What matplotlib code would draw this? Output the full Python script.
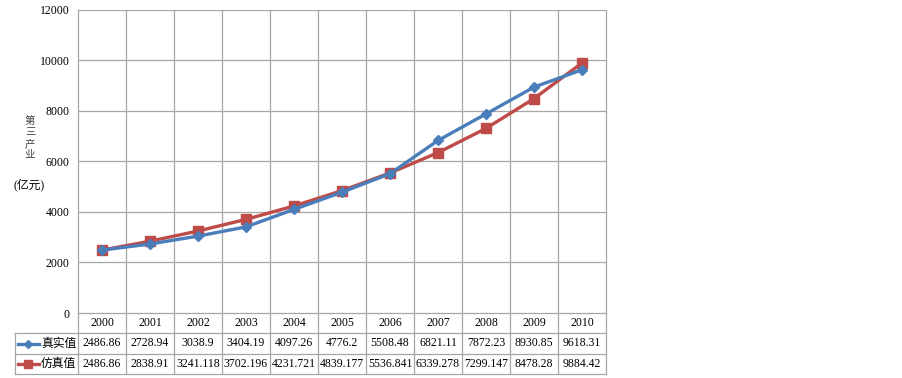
import matplotlib
matplotlib.use("Agg")
import matplotlib.pyplot as plt
import matplotlib.transforms as mtransforms
from matplotlib.lines import Line2D

years = ["2000", "2001", "2002", "2003", "2004", "2005", "2006", "2007", "2008", "2009", "2010"]
real_vals = [2486.86, 2728.94, 3038.9, 3404.19, 4097.26, 4776.2, 5508.48, 6821.11, 7872.23, 8930.85, 9618.31]
sim_vals = [2486.86, 2838.91, 3241.118, 3702.196, 4231.721, 4839.177, 5536.841, 6339.278, 7299.147, 8478.28, 9884.42]
real_labels = ["2486.86", "2728.94", "3038.9", "3404.19", "4097.26", "4776.2", "5508.48", "6821.11", "7872.23", "8930.85", "9618.31"]
sim_labels = ["2486.86", "2838.91", "3241.118", "3702.196", "4231.721", "4839.177", "5536.841", "6339.278", "7299.147", "8478.28", "9884.42"]
series_names = ["真实值", "仿真值"]
y_ticks = [0, 2000, 4000, 6000, 8000, 10000, 12000]
ylabel_chars = ["第", "三", "产", "业"]
ylabel_unit = "(亿元)"

FAM = ["Liberation Serif", "Noto Sans CJK SC"]
plt.rcParams["font.family"] = FAM
BLUE = "#4A7EBB"
RED = "#BE4B48"
GRID = "#A6A6A6"
FS = 8.5

W, H = 903, 378
fig = plt.figure(figsize=(W / 100, H / 100), dpi=100)
left_px, right_px, top_px, bot_px = 78, 606, 9.5, 313
ax = fig.add_axes([left_px / W, (H - bot_px) / H, (right_px - left_px) / W, (bot_px - top_px) / H])

n = len(years)
x = list(range(n))
ax.set_xlim(-0.5, n - 0.5)
ax.set_ylim(0, 12000)

ax.plot(x, real_vals, color=BLUE, lw=2.4, marker="D", ms=5, mfc=BLUE, mec=BLUE, zorder=4)
ax.plot(x, sim_vals, color=RED, lw=2.4, marker="s", ms=6.5, mfc=RED, mec=RED, zorder=3)

for t in y_ticks[1:]:
    ax.axhline(t, color=GRID, lw=0.9, zorder=1)
for s in ax.spines.values():
    s.set_visible(False)
ax.set_xticks([])
ax.set_yticks(y_ticks)
ax.set_yticklabels([str(t) for t in y_ticks], fontsize=FS)
ax.tick_params(axis="y", length=0, pad=6)

ax_h_px = bot_px - top_px
def fy(px):  # pixels below axes bottom -> axes fraction
    return -px / ax_h_px

trans = mtransforms.blended_transform_factory(ax.transData, ax.transAxes)
rows = [0, fy(20), fy(41), fy(61)]
x_leg = -0.5 - (left_px - 15) / ((right_px - left_px) / n)

lk = dict(color=GRID, lw=0.9, transform=trans, clip_on=False, zorder=2)
for k in range(n + 1):
    xb = k - 0.5
    ax.add_line(Line2D([xb, xb], [rows[3], 1], **lk))
ax.add_line(Line2D([x_leg, x_leg], [rows[1], rows[3]], **lk))
ax.add_line(Line2D([-0.5, n - 0.5], [rows[0], rows[0]], **lk))
ax.add_line(Line2D([x_leg, n - 0.5], [rows[1], rows[1]], **lk))
ax.add_line(Line2D([x_leg, n - 0.5], [rows[2], rows[2]], **lk))
ax.add_line(Line2D([x_leg, n - 0.5], [rows[3], rows[3]], **lk))

for i in range(n):
    ax.text(x[i], (rows[0] + rows[1]) / 2, years[i], transform=trans, ha="center", va="center", fontsize=FS)
    ax.text(x[i], (rows[1] + rows[2]) / 2, real_labels[i], transform=trans, ha="center", va="center", fontsize=FS)
    ax.text(x[i], (rows[2] + rows[3]) / 2, sim_labels[i], transform=trans, ha="center", va="center", fontsize=FS)

unit_px = (right_px - left_px) / n
def dx(px):
    return x_leg + px / unit_px
for r, (col, mk, ms, name) in enumerate([(BLUE, "D", 4, series_names[0]), (RED, "s", 6, series_names[1])]):
    yc = (rows[r + 1] + rows[r + 2]) / 2
    ax.add_line(Line2D([dx(3), dx(24)], [yc, yc], color=col, lw=2.4, transform=trans, clip_on=False))
    ax.add_line(Line2D([dx(13.5)], [yc], color=col, marker=mk, ms=ms, mfc=col, mec=col, transform=trans, clip_on=False))
    ax.text(dx(26), yc, name, transform=trans, ha="left", va="center", fontsize=FS, family=FAM)

# y label, stacked characters
for j, ch in enumerate(ylabel_chars):
    fig.text(30 / W, 1 - (121 + j * 11.5) / H, ch, ha="center", va="center", fontsize=7.5,
             family=["Noto Sans CJK SC"], color="#404040")
fig.text(29 / W, 1 - 185 / H, ylabel_unit, ha="center", va="center", fontsize=FS, family=FAM)

fig.savefig("out.png", dpi=100)
